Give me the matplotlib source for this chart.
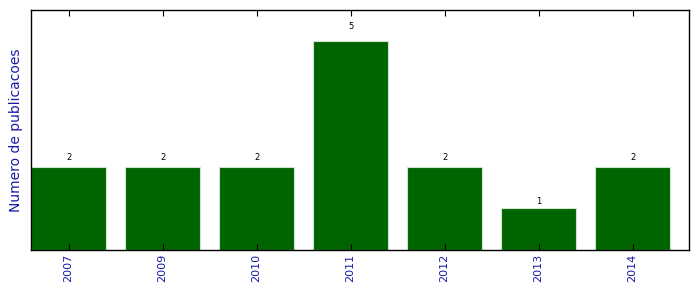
import matplotlib
matplotlib.use("Agg")
import matplotlib.pyplot as plt
import numpy as np

years = ["2007", "2009", "2010", "2011", "2012", "2013", "2014"]
counts = [2, 2, 2, 5, 2, 1, 2]

fig = plt.figure(figsize=(6.99, 2.92), dpi=100)
ax = fig.add_axes([31/699, 1 - 250/292, 658/699, 240/292])

x = np.arange(len(years))
ax.bar(x, counts, width=0.8, align="edge", color="#006400",
       edgecolor="#cfe6cf", linewidth=0.8)
for xi, c in zip(x, counts):
    ax.text(xi + 0.4, c * 1.05, str(c), ha="center", va="bottom", fontsize=6)

ax.set_xlim(0, len(years))
ax.set_ylim(0, max(counts) * 1.15)
ax.set_xticks(x + 0.4)
ax.set_xticklabels(years, rotation=90, fontsize=8, color="#1a1aa6")
ax.set_yticks([])
ax.tick_params(axis="x", direction="in", length=4, top=True, pad=3)
ax.set_ylabel("Numero de publicacoes", fontsize=10, color="#1a1aa6", labelpad=6)
for s in ax.spines.values():
    s.set_linewidth(1.0)

fig.savefig("out.png", dpi=100)
